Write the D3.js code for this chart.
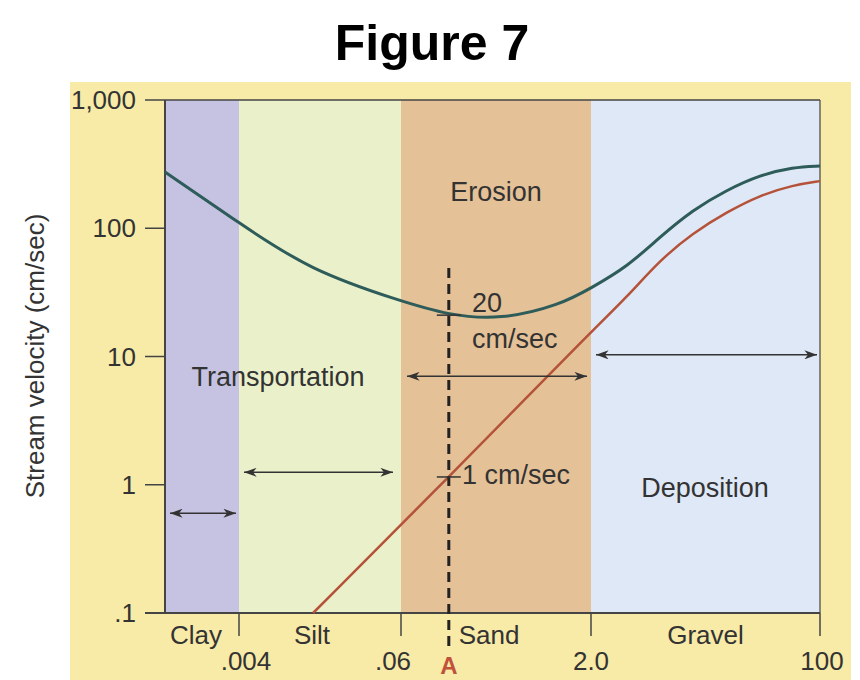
<!DOCTYPE html>
<html><head><meta charset="utf-8">
<script src="https://cdn.jsdelivr.net/npm/d3@7"></script>
<style>body{margin:0;background:#fff}text{font-family:"Liberation Sans",Arial,sans-serif}</style>
</head><body><svg id="c" width="860" height="680"></svg>
<script>
const yTicks = [0.1, 1, 10, 100, 1000];
const yTickLabels = [".1", "1", "10", "100", "1,000"];
const xBreaks = [0.004, 0.06, 2, 100];
const xBreakLabels = [".004", ".06", "2.0", "100"];
const classes = ["Clay", "Silt", "Sand", "Gravel"];
const classBounds = [[0.00113, 0.004], [0.004, 0.06], [0.06, 2], [2, 100]];
const classColors = ["#c6c3e2", "#eaf0c9", "#e4c196", "#dfe8f6"];
const erosionX = [0.00113, 0.004, 0.0131, 0.06, 0.145, 0.373, 1.13, 2, 3.7, 6.5, 11.4, 20.4, 35.9, 63.1, 100];
const erosionY = [275, 110, 47, 27, 21, 19.3, 25.2, 34.2, 49.9, 85.5, 139, 199, 260, 300, 306];
const depositX = [0.0138, 0.145, 1.36, 2, 3.7, 6.5, 11.4, 20.4, 35.9, 63.1, 100];
const depositY = [0.1, 1.15, 10.6, 15.5, 29.1, 56.5, 91.8, 134, 181, 217, 233];
const pointA = 0.145;

const svg = d3.select("#c");
const x = d3.scaleLog().domain([0.00113, 0.004, 0.06, 2, 100]).range([165, 239, 401, 591, 820]);
const y = d3.scaleLog().domain([0.1, 1000]).range([613, 100]);

svg.append("rect").attr("x",70).attr("y",82).attr("width",781).attr("height",598).attr("fill","#f8eaa7");
svg.append("text").attr("x",432).attr("y",60).attr("text-anchor","middle").attr("font-size",50).attr("font-weight","bold").text("Figure 7");

svg.selectAll(".band").data(classBounds).join("rect")
  .attr("x",d=>x(d[0])).attr("width",d=>x(d[1])-x(d[0]))
  .attr("y",y(1000)).attr("height",y(0.1)-y(1000)).attr("fill",(d,i)=>classColors[i]);

const axisCol="#444";
svg.append("line").attr("x1",165).attr("x2",165).attr("y1",y(1000)).attr("y2",y(0.1)).attr("stroke",axisCol).attr("stroke-width",2);
svg.append("line").attr("x1",x(100)).attr("x2",x(100)).attr("y1",y(1000)).attr("y2",y(0.1)).attr("stroke",axisCol).attr("stroke-width",1.2);
svg.selectAll(".yt").data(yTicks).join("line").attr("x1",145).attr("x2",(d,i)=>i===0||i===4?x(100):165)
  .attr("y1",d=>y(d)).attr("y2",d=>y(d)).attr("stroke",axisCol).attr("stroke-width",d=>d===0.1?2:1.5);
svg.selectAll(".yl").data(yTicks).join("text").attr("x",136).attr("y",d=>y(d)+9).attr("text-anchor","end")
  .attr("font-size",26).attr("fill","#333").text((d,i)=>yTickLabels[i]);
svg.append("text").attr("transform","translate(44,356) rotate(-90)").attr("text-anchor","middle").attr("font-size",26).attr("fill","#333").text("Stream velocity (cm/sec)");

svg.selectAll(".xt").data(xBreaks).join("line").attr("x1",d=>x(d)).attr("x2",d=>x(d)).attr("y1",613).attr("y2",636).attr("stroke",axisCol).attr("stroke-width",1.5);
const xlOff=[7,-8,0,2];
svg.selectAll(".xl").data(xBreaks).join("text").attr("x",(d,i)=>x(d)+xlOff[i]).attr("y",670).attr("text-anchor","middle").attr("font-size",26).attr("fill","#333").text((d,i)=>xBreakLabels[i]);
const clOff=[-6,-8,-7,0];
svg.selectAll(".cl").data(classBounds).join("text").attr("x",(d,i)=>(x(d[0])+x(d[1]))/2+clOff[i]).attr("y",644).attr("text-anchor","middle").attr("font-size",26).attr("fill","#333").text((d,i)=>classes[i]);

const line = d3.line().x(d=>x(d[0])).y(d=>y(d[1])).curve(d3.curveBasis);
svg.append("path").attr("d",line(erosionX.map((v,i)=>[v,erosionY[i]]))).attr("fill","none").attr("stroke","#2d5c5a").attr("stroke-width",3);
svg.append("path").attr("d",line(depositX.map((v,i)=>[v,depositY[i]]))).attr("fill","none").attr("stroke","#b4523a").attr("stroke-width",2.5);

const ax=x(pointA);
svg.append("line").attr("x1",ax).attr("x2",ax).attr("y1",268).attr("y2",650).attr("stroke","#222").attr("stroke-width",3).attr("stroke-dasharray","10,6");
[21,1.15].forEach(v=>svg.append("line").attr("x1",ax-12).attr("x2",ax+12).attr("y1",y(v)).attr("y2",y(v)).attr("stroke","#333").attr("stroke-width",1.5));
svg.append("text").attr("x",ax).attr("y",674).attr("text-anchor","middle").attr("font-size",24).attr("font-weight","bold").attr("fill","#c0513a").text("A");

const defs=svg.append("defs");
defs.append("marker").attr("id","ah").attr("viewBox","0 0 14 10").attr("refX",14).attr("refY",5).attr("markerWidth",14).attr("markerHeight",9).attr("markerUnits","userSpaceOnUse").attr("orient","auto-start-reverse")
 .append("path").attr("d","M0,0 L14,5 L0,10 L4,5 Z").attr("fill","#333");
const arrows=[[0.00113,0.004,0.6],[0.004,0.06,1.25],[0.06,2,7],[2,100,10.3]];
const pad=[[5,3],[5,8],[6,4],[5,3]];
arrows.forEach((a,i)=>svg.append("line").attr("x1",x(a[0])+pad[i][0]).attr("x2",x(a[1])-pad[i][1]).attr("y1",y(a[2])).attr("y2",y(a[2]))
  .attr("stroke","#333").attr("stroke-width",1.5).attr("marker-start","url(#ah)").attr("marker-end","url(#ah)"));

const ann=[["Erosion",496,201,"middle"],["Transportation",278,386,"middle"],["Deposition",705,497,"middle"],["20",472,312,"start"],["cm/sec",472,348,"start"],["1 cm/sec",462,484,"start"]];
ann.forEach(a=>svg.append("text").attr("x",a[1]).attr("y",a[2]).attr("text-anchor",a[3]).attr("font-size",27).attr("fill","#333").text(a[0]));
</script></body></html>
